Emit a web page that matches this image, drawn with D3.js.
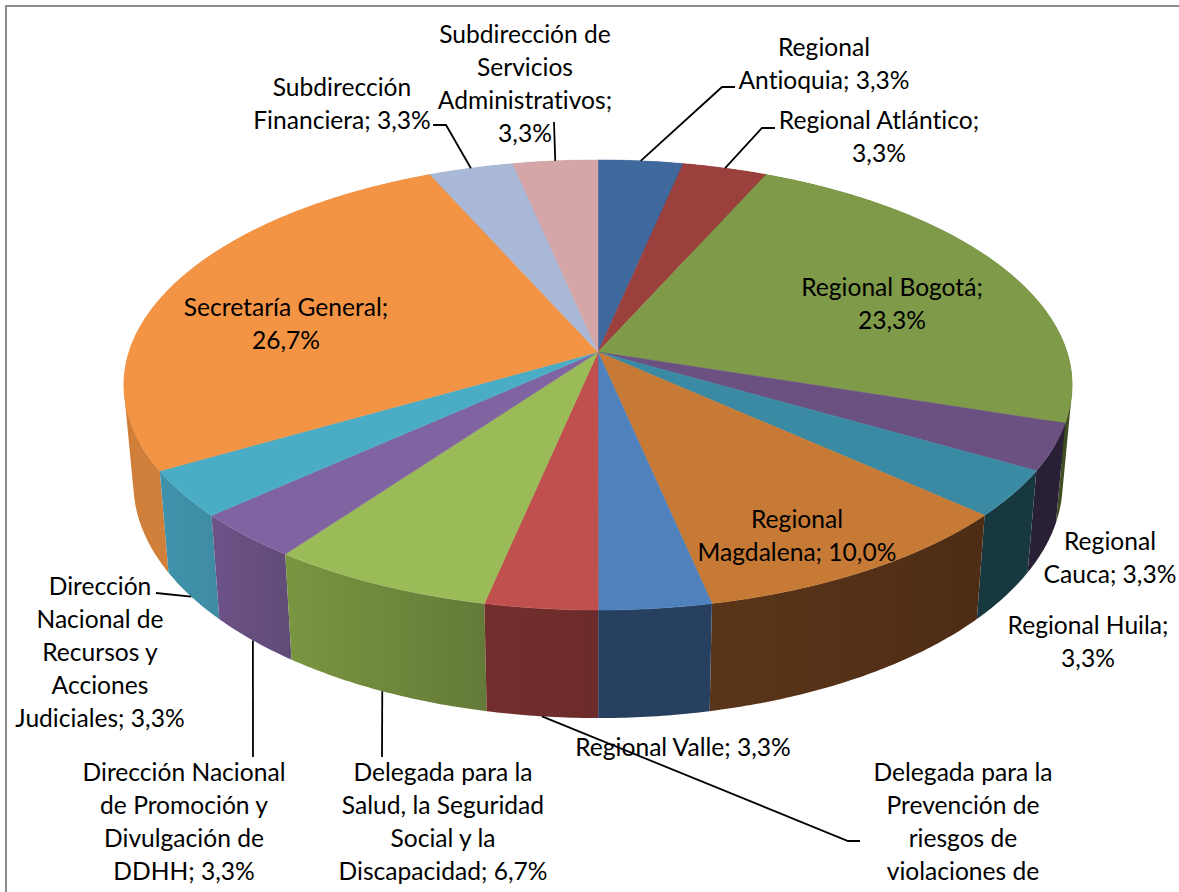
<!DOCTYPE html>
<html>
<head>
<meta charset="utf-8">
<script src="https://cdn.jsdelivr.net/npm/d3@7"></script>
<style>
  html, body { margin: 0; padding: 0; background: #fff; overflow: hidden; }
  svg { display: block; }
  text { font-family: Lato, "Open Sans", sans-serif; font-size: 24.6px; font-variant-ligatures: none; fill: #000; text-anchor: middle; }
</style>
</head>
<body>
<svg id="chart" width="1179" height="892"></svg>
<script>
"use strict";

const categories = [
  "Regional Antioquia", "Regional Atlántico", "Regional Bogotá", "Regional Cauca",
  "Regional Huila", "Regional Magdalena", "Regional Valle",
  "Delegada para la Prevención de riesgos de violaciones de",
  "Delegada para la Salud, la Seguridad Social y la Discapacidad",
  "Dirección Nacional de Promoción y Divulgación de DDHH",
  "Dirección Nacional de Recursos y Acciones Judiciales",
  "Secretaría General", "Subdirección Financiera", "Subdirección de Servicios Administrativos"
];
const shares = [3.33, 3.33, 23.33, 3.33, 3.33, 10, 3.33, 3.33, 6.67, 3.33, 3.33, 26.67, 3.33, 3.33];

// colores de la cara superior y de la pared (izquierda -> derecha)
const topColors = ["#3f689c", "#9b403d", "#7f9a48", "#6b5082", "#3a8aa3", "#c67a35", "#4f81bd",
  "#c0504d", "#9bbb59", "#8064a2", "#4bacc6", "#f39445", "#a9b8d6", "#d5a6a7"];
const wallFrom = ["#2a4468", "#662a28", "#3f4d24", "#2a2035", "#183840", "#5a3519", "#274060",
  "#722e2d", "#7a9641", "#6d5288", "#3f93aa", "#cf7f39", "#8a96ae", "#ae8889"];
const wallTo = ["#2a4468", "#662a28", "#3f4d24", "#2a2035", "#183840", "#4e2c15", "#274060",
  "#6c2c2b", "#647a38", "#604b78", "#3e8ca4", "#d5843d", "#8a96ae", "#ae8889"];

// saltos de linea de cada etiqueta; {v} es el porcentaje
const labelLines = [
  ["Regional", "Antioquia; {v}"],
  ["Regional Atlántico;", "{v}"],
  ["Regional Bogotá;", "{v}"],
  ["Regional", "Cauca; {v}"],
  ["Regional Huila;", "{v}"],
  ["Regional", "Magdalena; {v}"],
  ["Regional Valle; {v}"],
  ["Delegada para la", "Prevención de", "riesgos de", "violaciones de"],
  ["Delegada para la", "Salud, la Seguridad", "Social y la", "Discapacidad; {v}"],
  ["Dirección Nacional", "de Promoción y", "Divulgación de", "DDHH; {v}"],
  ["Dirección", "Nacional de", "Recursos y", "Acciones", "Judiciales; {v}"],
  ["Secretaría General;", "{v}"],
  ["Subdirección", "Financiera; {v}"],
  ["Subdirección de", "Servicios", "Administrativos;", "{v}"]
];
// centro x e y de la primera linea
const labelX = [824, 879, 892, 1110, 1088, 797, 683, 963, 443, 184, 100, 286, 342, 525];
const labelY = [47, 120, 287, 541, 625, 519, 747, 772, 772, 772, 586, 307, 87, 34];
const lineGap = 33;

// codos de las lineas guia: null = sin linea
const leaderEnds = [
  [[722, 87], [735, 87]], [[762, 128], [775, 128]], null, null, null, null, null,
  [[848, 841], [860, 841]], [[382, 757]], [[253, 757]], [[156, 593]], null,
  [[446, 125], [433, 125]], [[554, 122]]
];
const leaderOnBottom = [false, false, false, false, false, false, false, true, true, true, true, false, false, false];

// proyeccion con perspectiva del disco
const cx = 598, cy = 352;
const radiusX = 469, radiusY = 220.2, persp = 0.1467;
const bottomCy = 448.5, bottomRadiusY = 230, bottomScale = 0.98;

function project(a, bottom) {
  const x = Math.sin(a), y = -Math.cos(a);
  const s = 1 / (1 - persp * y);
  if (bottom) return [cx + bottomScale * radiusX * x * s, bottomCy + bottomRadiusY * y * s];
  return [cx + radiusX * x * s, cy + radiusY * y * s];
}

function arcPoints(a0, a1, bottom) {
  const n = Math.max(2, Math.ceil(Math.abs(a1 - a0) / 0.01));
  return d3.range(n + 1).map(i => project(a0 + (a1 - a0) * i / n, bottom));
}

// pared como union de cuadrilateros, asi sale bien el borde tangente a los lados
function wallPath(a0, a1) {
  const top = arcPoints(a0, a1, false), bot = arcPoints(a0, a1, true);
  return d3.range(top.length - 1).map(i => {
    const quad = [top[i], top[i + 1], bot[i + 1], bot[i]];
    if (d3.polygonArea(quad) < 0) quad.reverse();
    return line(quad) + "Z";
  }).join("");
}

const svg = d3.select("#chart");
const line = d3.line();
const pct = d3.format(".1f");
const fmt = v => pct(v).replace(".", ",") + "%";

const slices = d3.pie().sort(null).value(d => d)(shares);

// gradientes de las paredes
const defs = svg.append("defs");
slices.forEach((d, i) => {
  const g = defs.append("linearGradient").attr("id", "wall" + i);
  g.append("stop").attr("offset", 0).attr("stop-color", wallFrom[i]);
  g.append("stop").attr("offset", 1).attr("stop-color", wallTo[i]);
});

// marco
svg.append("rect")
  .attr("x", 6).attr("y", 6).attr("width", 1300).attr("height", 1000)
  .attr("fill", "#fff").attr("stroke", "#8c8c8c").attr("stroke-width", 2);

// paredes: primero las de atras
const midY = d => -Math.cos((d.startAngle + d.endAngle) / 2);
svg.append("g").selectAll("path")
  .data(slices.slice().sort((a, b) => midY(a) - midY(b)))
  .enter()
  .append("path")
  .attr("d", d => wallPath(d.startAngle, d.endAngle))
  .attr("fill", d => "url(#wall" + d.index + ")");

// cara superior
svg.append("g").selectAll("path")
  .data(slices)
  .enter()
  .append("path")
  .attr("d", d => line([[cx, cy]].concat(arcPoints(d.startAngle, d.endAngle, false))) + "Z")
  .attr("fill", d => topColors[d.index])
  .attr("stroke", d => topColors[d.index])
  .attr("stroke-width", 0.5);

// lineas guia
svg.append("g").selectAll("path")
  .data(slices.filter(d => leaderEnds[d.index]))
  .enter()
  .append("path")
  .attr("d", d => line([project((d.startAngle + d.endAngle) / 2, leaderOnBottom[d.index])]
    .concat(leaderEnds[d.index])))
  .attr("fill", "none")
  .attr("stroke", "#000")
  .attr("stroke-width", 1.8);

// etiquetas
const labels = svg.append("g").selectAll("text")
  .data(slices)
  .enter()
  .append("text")
  .attr("aria-label", d => categories[d.index]);

labels.selectAll("tspan")
  .data(d => labelLines[d.index].map((t, j) => ({
    text: t.replace("{v}", fmt(d.value)),
    x: labelX[d.index],
    y: labelY[d.index] + j * lineGap
  })))
  .enter()
  .append("tspan")
  .attr("x", d => d.x)
  .attr("y", d => d.y)
  .attr("dy", "0.35em")
  .text(d => d.text);
</script>
</body>
</html>
